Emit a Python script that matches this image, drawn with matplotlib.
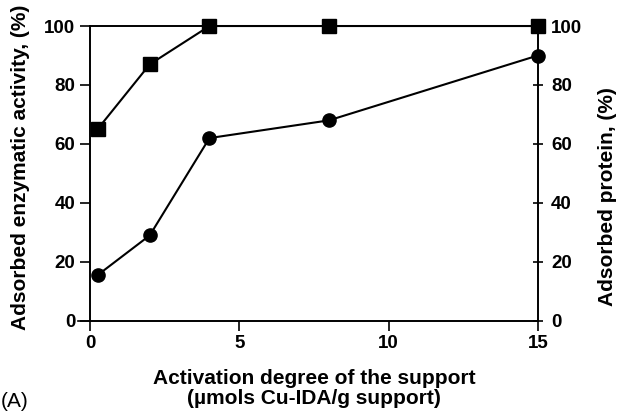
import matplotlib
matplotlib.use('Agg')
import matplotlib.pyplot as plt

plt.rcParams['font.family'] = ['Liberation Sans', 'DejaVu Sans']

activation = [0.25, 2, 4, 8, 15]
enzymatic_activity = [65, 87, 100, 100, 100]
adsorbed_protein = [15.5, 29, 62, 68, 90]

x_ticks = [0, 5, 10, 15]
y_ticks = [0, 20, 40, 60, 80, 100]

fig = plt.figure(figsize=(6.21, 4.13), dpi=100)
ax = fig.add_axes([0.145, 0.223, 0.721, 0.714])

ax.plot(activation, enzymatic_activity, color='black', lw=1.5,
        marker='s', markersize=9.5, clip_on=False, zorder=3)
ax.plot(activation, adsorbed_protein, color='black', lw=1.5,
        marker='o', markersize=9.5, clip_on=False, zorder=3)

ax.set_xlim(0, 15)
ax.set_ylim(0, 100)
ax.set_xticks(x_ticks)
ax.set_yticks(y_ticks)
ax.spines['bottom'].set_bounds(-0.4, 15)
for s in ax.spines.values():
    s.set_linewidth(1.2)

ax.tick_params(axis='both', labelsize=13.5, width=1.2, length=7, direction='out')
for lab in ax.get_xticklabels() + ax.get_yticklabels():
    lab.set_fontweight('bold')

ax.set_ylabel('Adsorbed enzymatic activity, (%)', fontsize=15, fontweight='bold')
ax.yaxis.set_label_coords(-0.135, 0.52)
ax.set_xlabel('Activation degree of the support\n(\u00b5mols Cu-IDA/g support)',
              fontsize=15, fontweight='bold', labelpad=12, linespacing=1.05)

ax2 = ax.twinx()
ax2.set_ylim(0, 100)
ax2.set_yticks(y_ticks)
ax2.tick_params(axis='y', labelsize=13.5, width=1.2, length=7, direction='inout', pad=6)
for lab in ax2.get_yticklabels():
    lab.set_fontweight('bold')
for s in ax2.spines.values():
    s.set_linewidth(1.2)
ax2.set_ylabel('Adsorbed protein, (%)', fontsize=15, fontweight='bold')
ax2.yaxis.set_label_coords(1.135, 0.42)

fig.text(0.002, 0.015, '(A)', fontsize=15)

fig.savefig('out.png', dpi=100)
